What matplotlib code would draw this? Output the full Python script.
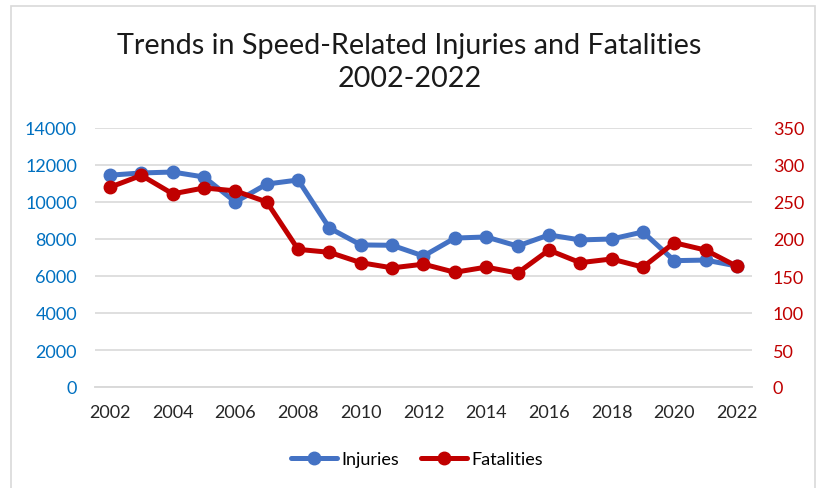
import matplotlib
matplotlib.use("Agg")
from matplotlib import pyplot as plt
from matplotlib.patches import Rectangle

plt.rcParams['font.family'] = ['Lato', 'DejaVu Sans']

years = list(range(2002, 2023))
injuries = [11450, 11570, 11620, 11350, 10000, 10970, 11190, 8590, 7680, 7660,
            7080, 8050, 8110, 7620, 8220, 7950, 8000, 8380, 6830, 6860, 6540]
fatalities = [270, 286, 261, 269, 265, 250, 186, 182, 168, 161,
              166, 155, 162, 154, 185, 168, 173, 162, 195, 185, 163]
year_ticks = list(range(2002, 2023, 2))
left_ticks = list(range(0, 14001, 2000))
right_ticks = list(range(0, 351, 50))

blue = "#4472C4"
red = "#C00000"

fig = plt.figure(figsize=(8.19, 4.89), dpi=100)
# light chart-area border, open at the bottom like the reference crop
fig.patches.append(Rectangle((11 / 819, -0.1), (815 - 11) / 819, 1.1 - 7 / 489,
                             transform=fig.transFigure, fill=False,
                             edgecolor="#D9D9D9", linewidth=1.2))

ax = fig.add_axes([95 / 819, 1 - 388 / 489, (752 - 95) / 819, (388 - 129) / 489])
ax2 = ax.twinx()

inj_line, = ax.plot(years, injuries, color=blue, linewidth=3.6, marker="o",
                    markersize=9, solid_capstyle="round", zorder=3)
fat_line, = ax2.plot(years, fatalities, color=red, linewidth=3.6, marker="o",
                     markersize=9, solid_capstyle="round", zorder=3)

ax.set_xlim(2001.52, 2022.48)
ax.set_ylim(0, 14000)
ax2.set_ylim(0, 350)
ax.set_xticks(year_ticks)
ax.set_yticks(left_ticks)
ax2.set_yticks(right_ticks)

ax.grid(axis="y", color="#D9D9D9", linewidth=1.2)
ax.set_axisbelow(True)
for a in (ax, ax2):
    for s in ("top", "left", "right"):
        a.spines[s].set_visible(False)
    a.spines["bottom"].set_color("#D9D9D9")
    a.spines["bottom"].set_linewidth(1.2)

ax.tick_params(axis="y", length=0, pad=13, labelsize=13, labelcolor="#0070C0")
ax2.tick_params(axis="y", length=0, pad=15, labelsize=13, labelcolor=red)
ax.tick_params(axis="x", length=0, pad=12, labelsize=13, labelcolor="#262626")

fig.suptitle("Trends in Speed-Related Injuries and Fatalities\n2002-2022",
             y=1 - 33 / 489, fontsize=20.7, color="#1a1a1a", linespacing=1.34)

fig.legend([inj_line, fat_line], ["Injuries", "Fatalities"], loc="center",
           bbox_to_anchor=(0.509, 1 - 460 / 489), ncol=2, frameon=False,
           fontsize=13, handlelength=2.55, columnspacing=1.2, handletextpad=0.25)

fig.savefig("out.png", dpi=100)
